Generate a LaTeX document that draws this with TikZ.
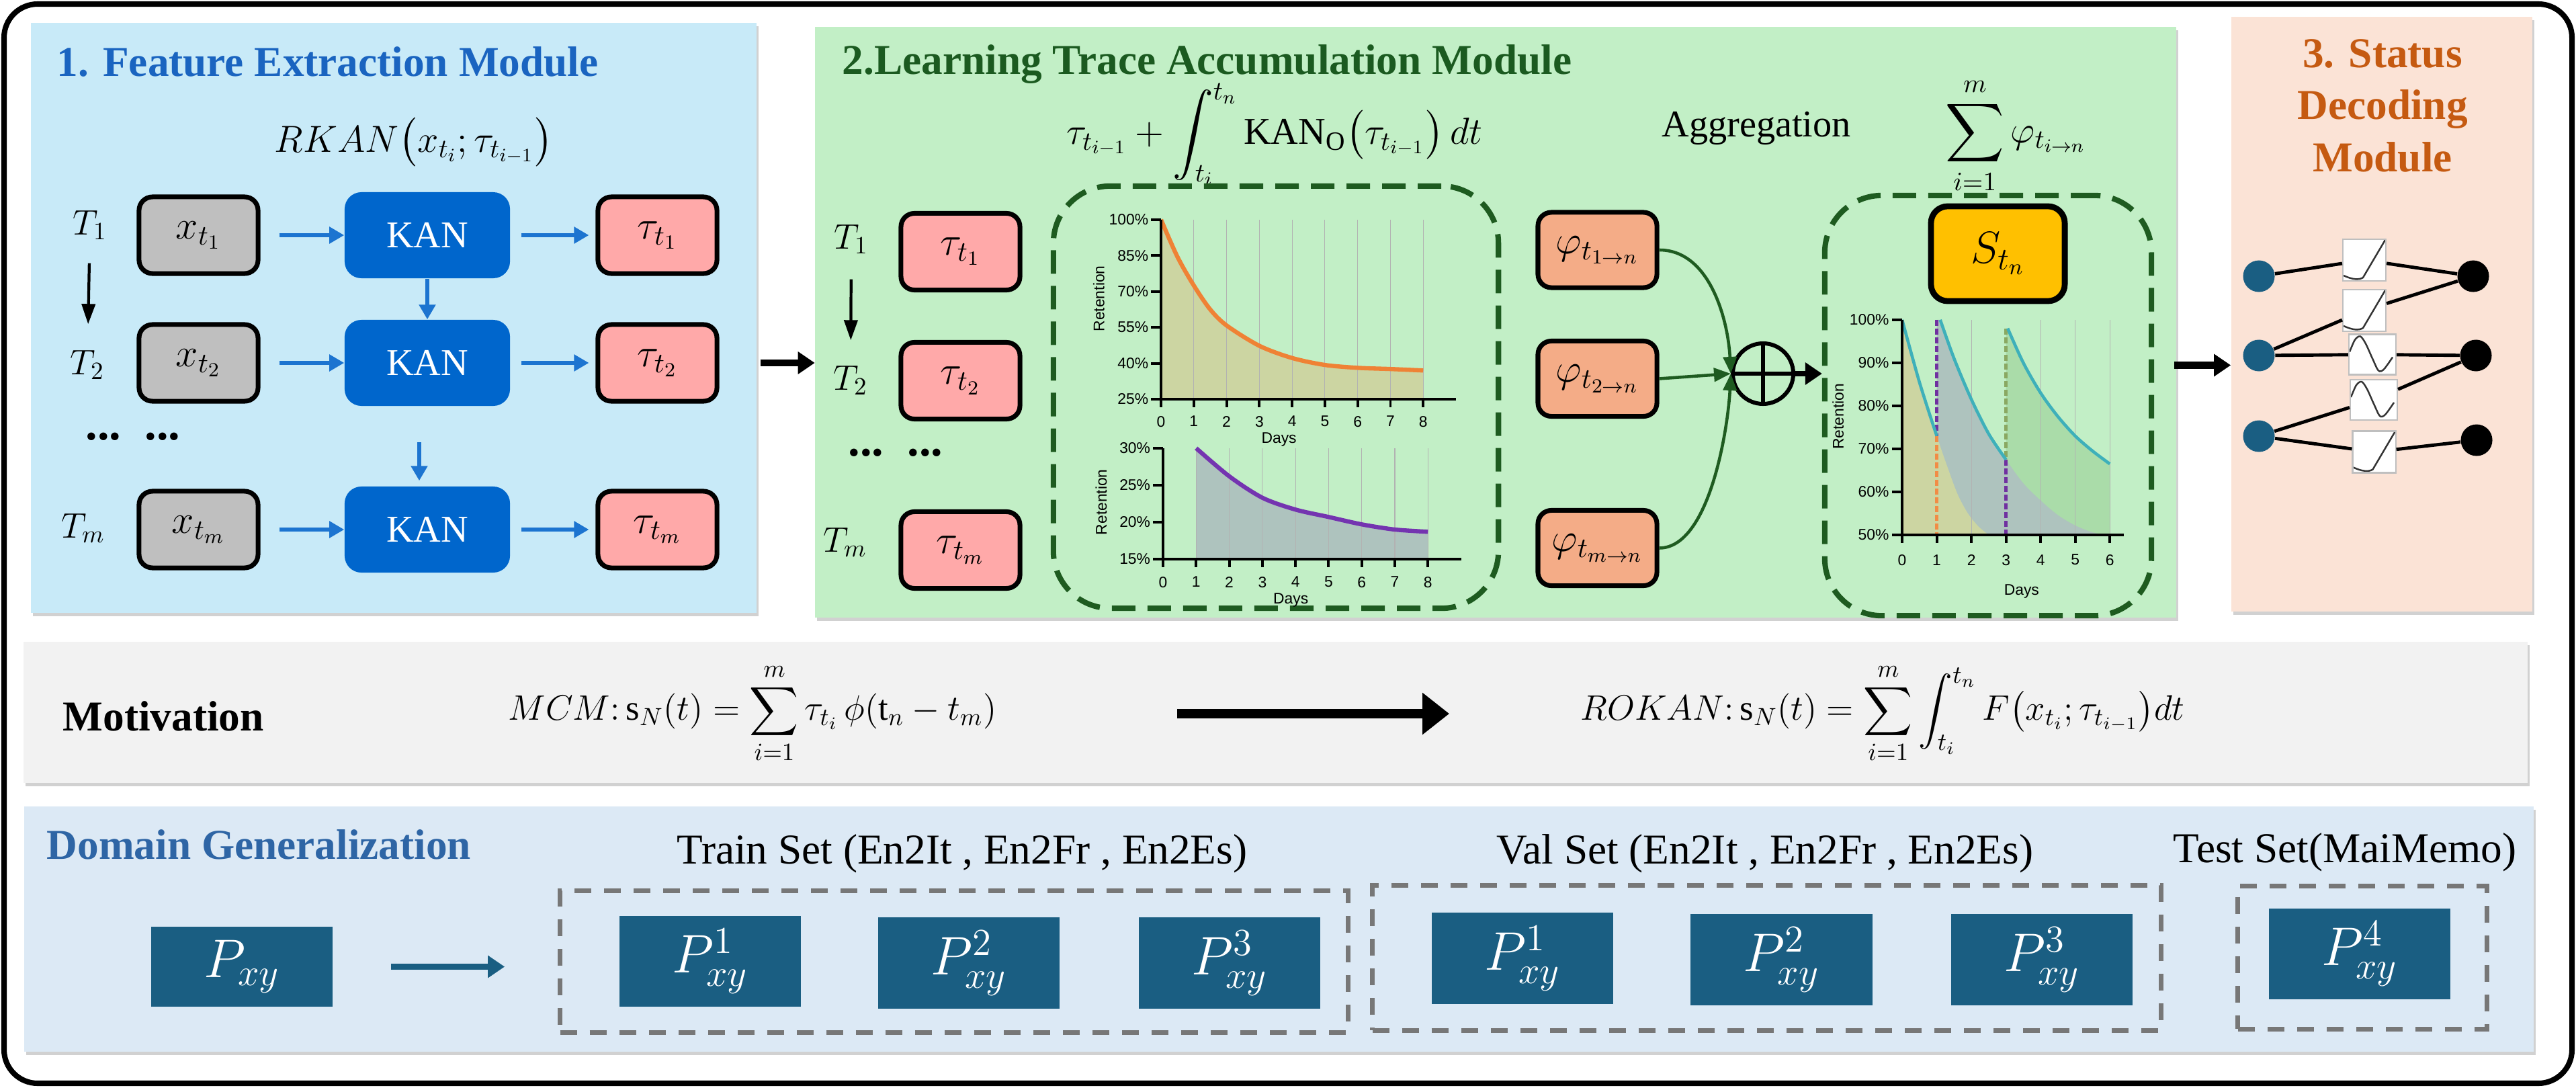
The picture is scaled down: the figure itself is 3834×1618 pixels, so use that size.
\documentclass[tikz,border=0pt]{standalone}
\usepackage{fix-cm}
\usepackage{exscale}
\usepackage{fontspec}
\setmainfont{Liberation Serif}
\setsansfont{Liberation Sans}
\usetikzlibrary{positioning,arrows.meta,shadows,calc}

\definecolor{featbg}{HTML}{C8EAF8}
\definecolor{tracebg}{HTML}{C2EFC6}
\definecolor{decodebg}{HTML}{FBE3D6}
\definecolor{motivbg}{HTML}{F2F2F2}
\definecolor{domainbg}{HTML}{DCE9F5}
\definecolor{feattitle}{HTML}{1A64C0}
\definecolor{tracetitle}{HTML}{1B5A20}
\definecolor{decodetitle}{HTML}{C55A11}
\definecolor{domaintitle}{HTML}{2E65A5}
\definecolor{kanblue}{HTML}{0066CC}
\definecolor{arrowblue}{HTML}{1C74D0}
\definecolor{xgray}{HTML}{BFBFBF}
\definecolor{taupink}{HTML}{FFA9A9}
\definecolor{phisalmon}{HTML}{F4AC87}
\definecolor{gold}{HTML}{FFC000}
\definecolor{pteal}{HTML}{1A5E82}
\definecolor{dashgreen}{HTML}{1E5B20}
\definecolor{dashgray}{HTML}{777777}
\definecolor{curveorange}{HTML}{EF8235}
\definecolor{curvepurple}{HTML}{7434B0}
\definecolor{curveteal}{HTML}{3EB0BA}
\definecolor{fillA}{HTML}{CCD5A2}
\definecolor{fillB}{HTML}{AEC3BE}
\definecolor{fillC}{HTML}{AADCA9}
\definecolor{dorange}{HTML}{F28C45}
\definecolor{dpurple}{HTML}{7030A0}
\definecolor{dolive}{HTML}{8AA862}

\begin{document}
\begin{tikzpicture}[x=0.01cm,y=-0.01cm]
  \tikzset{
  panel/.style={rectangle, inner sep=0pt, draw=none,
    drop shadow={shadow xshift=0.03cm, shadow yshift=-0.05cm, opacity=0.18, fill=black}},
  ttl/.style={font=\fontsize{18}{22}\selectfont\bfseries, inner sep=0pt},
  lbl/.style={font=\fontsize{18}{22}\selectfont, inner sep=0pt},
  frm/.style={font=\fontsize{16}{19}\selectfont, inner sep=0pt},
  tlab/.style={font=\fontsize{15}{18}\selectfont, inner sep=0pt},
  box/.style={rectangle, rounded corners=0.2cm, draw=black, line width=2pt,
    minimum width=1.77cm, minimum height=1.14cm, font=\fontsize{17}{19}\selectfont},
  xbox/.style={box, fill=xgray},
  taubox/.style={box, fill=taupink},
  phibox/.style={box, fill=phisalmon, minimum height=1.12cm},
  sbox/.style={box, fill=gold, line width=2.5pt, rounded corners=0.25cm,
    minimum width=1.99cm, minimum height=1.41cm, font=\fontsize{19}{21}\selectfont},
  kan/.style={rectangle, rounded corners=0.25cm, fill=kanblue, text=white,
    minimum width=2.46cm, minimum height=1.28cm, font=\fontsize{16}{18}\selectfont},
  barrow/.style={draw=arrowblue, line width=1.5pt, -{Triangle[length=0.22cm,width=0.24cm]}},
  karrow/.style={draw=black, line width=1.2pt, -{Triangle[length=0.3cm,width=0.2cm]}},
  panelarrow/.style={draw=black, line width=3pt, -{Triangle[length=0.25cm,width=0.32cm]}},
  garrow/.style={draw=dashgreen, line width=1.3pt, -{Triangle[length=0.25cm,width=0.2cm]}},
  greendash/.style={rectangle, draw=dashgreen, line width=2.3pt,
    dash pattern=on 0.35cm off 0.18cm, rounded corners=0.85cm},
  graydash/.style={rectangle, draw=dashgray, line width=2pt, dash pattern=on 0.25cm off 0.19cm},
  pbox/.style={rectangle, fill=pteal, text=white, minimum width=2.7cm,
    minimum height=1.35cm, font=\fontsize{23}{25}\selectfont},
  tick/.style={font=\sffamily\fontsize{6.5}{7}\selectfont, inner sep=1pt},
  axis/.style={line width=1.1pt},
  gridline/.style={black!30, line width=0.3pt},
  inode/.style={circle, fill=pteal, minimum size=0.47cm, inner sep=0pt},
  onode/.style={circle, fill=black, minimum size=0.47cm, inner sep=0pt},
  fbox/.style={rectangle, fill=white, draw=black!25, line width=0.6pt,
    minimum width=0.64cm, minimum height=0.62cm, inner sep=0pt},
  relubox/.style={fbox, path picture={
    \begin{scope}[shift={(path picture bounding box.center)}]
      \draw[line width=0.7pt, black!80] (-31,23) .. controls (-18,29) and (-8,30) .. (-2,26) -- (31,-30);
    \end{scope}}},
  sinebox/.style={fbox, minimum width=0.7cm, minimum height=0.6cm, path picture={
    \begin{scope}[shift={(path picture bounding box.center)}]
      \draw[line width=0.7pt, black!80] plot[smooth] coordinates
        {(-34,-4) (-26,-22) (-18,-27) (-10,-16) (0,6) (9,24) (17,22) (30,4)};
    \end{scope}}},
  netline/.style={line width=1.4pt}
}

\useasboundingbox (0,0) rectangle (3834,1618);

% panels
\node[panel, fill=featbg, minimum width=10.79cm, minimum height=8.78cm] (featpanel) at (586,473) {};
\node[panel, fill=tracebg, minimum width=20.24cm, minimum height=8.79cm] (tracepanel) at (2226,479.5) {};
\node[panel, fill=decodebg, minimum width=4.48cm, minimum height=8.85cm] (decodepanel) at (3545,467.5) {};
\node[panel, fill=motivbg, minimum width=37.25cm, minimum height=2.1cm] (motivpanel) at (1898.5,1060) {};
\node[panel, fill=domainbg, minimum width=37.33cm, minimum height=3.65cm] (domainpanel) at (1903.5,1382.5) {};
\draw[line width=2.3pt, rounded corners=0.5cm] (6,6) rectangle (3828,1612);

% 1. feature extraction
\node[ttl, text=feattitle, anchor=base west] (feattitle) at (84,113) {1. Feature Extraction Module};
\node[frm] (rkan) at (616,212) {$RKAN\bigl(x_{t_i};\tau_{t_{i-1}}\bigr)$};

\node[tlab] (TA1) at (134,335) {$T_1$};
\node[tlab] (TA2) at (130,543) {$T_2$};
\node[tlab] (TAm) at (124,786) {$T_m$};
\node[ttl, font=\fontsize{20}{22}\selectfont\bfseries] (dotsA) at (198,650) {...\ \ ...};
\draw[karrow, shorten <=0.34cm, shorten >=0.38cm] (TA1) -- (TA2);

\node[xbox] (x1) at (295.5,350) {$x_{t_1}$};
\node[xbox] (x2) at (295.5,540) {$x_{t_2}$};
\node[xbox] (xm) at (295.5,788) {$x_{t_m}$};
\node[kan] (k1) at (636,350) {KAN};
\node[kan] (k2) at (636,540) {KAN};
\node[kan] (km) at (636,788) {KAN};
\node[taubox] (tA1) at (978.5,350) {$\tau_{t_1}$};
\node[taubox] (tA2) at (978.5,540) {$\tau_{t_2}$};
\node[taubox] (tAm) at (978.5,788) {$\tau_{t_m}$};

\foreach \r in {1,2,m} {
  \draw[barrow, shorten <=0.28cm] (x\r) -- (k\r);
  \draw[barrow, shorten <=0.16cm, shorten >=0.1cm] (k\r) -- (tA\r);
}
\draw[barrow] (k1) -- (k2);
\coordinate (kdots) at (624,658);
\draw[barrow, shorten >=0.08cm] (kdots) -- (kdots |- km.north);

\draw[panelarrow, shorten <=0.05cm] (tA2.east -| featpanel.east) -- (tA2.east -| tracepanel.west);

% 2. learning trace accumulation
\node[ttl, text=tracetitle, anchor=base west] (tracetitle) at (1253,110) {2.Learning Trace Accumulation Module};
\node[frm] (ode) at (1897,200) {$\tau_{t_{i-1}}+\displaystyle\int_{t_i}^{t_n}\mathrm{KAN}_{\mathrm{O}}\bigl(\tau_{t_{i-1}}\bigr)\,dt$};

\node[tlab] (TB1) at (1267,356) {$T_1$};
\node[tlab] (TB2) at (1266,566) {$T_2$};
\node[tlab] (TBm) at (1258,807) {$T_m$};
\node[ttl, font=\fontsize{20}{22}\selectfont\bfseries] (dotsB) at (1333,674) {...\ \ ...};
\draw[karrow, shorten <=0.37cm, shorten >=0.37cm] (TB1) -- (TB2);

\node[taubox] (tB1) at (1429.5,374.5) {$\tau_{t_1}$};
\node[taubox] (tB2) at (1429.5,566.5) {$\tau_{t_2}$};
\node[taubox] (tBm) at (1429.5,818.5) {$\tau_{t_m}$};

\node[greendash, minimum width=6.62cm, minimum height=6.28cm] (dashA) at (1899,591) {};

% forgetting curve, one review
\begin{scope}[shift={(1728,594)}, x=0.4875cm, y=0.0356cm]
  \fill[fillA] (0,0) -- plot[smooth] coordinates {(0,75) (0.5,59.5) (1,47.5) (1.5,37.5) (2,30.8) (3,22.3) (4,17.2) (5,14.3) (6,13.1) (7,12.6) (8,12)} -- (8,0) -- cycle;
  \foreach \d in {1,...,8} \draw[gridline] (\d,0) -- (\d,75);
  \draw[line width=1.8pt, curveorange] plot[smooth] coordinates {(0,75) (0.5,59.5) (1,47.5) (1.5,37.5) (2,30.8) (3,22.3) (4,17.2) (5,14.3) (6,13.1) (7,12.6) (8,12)};
  \draw[axis] (0,75) -- (0,0) -- (9,0);
  \foreach \d in {0,...,8} {
    \draw[axis] (\d,0) -- (\d,-3.4);
    \node[tick] at (\d,-9.3) {\d};
  }
  \foreach \v in {25,40,...,100} {
    \draw[axis] (0,\v-25) -- (-0.3,\v-25);
    \node[tick, anchor=east] at (-0.3,\v-25) {\v\%};
  }
  \node[tick, rotate=90] at (-1.9,42) {Retention};
  \node[tick] at (3.6,-16.9) {Days};
\end{scope}

% forgetting curve, later review
\begin{scope}[shift={(1731,832)}, x=0.4925cm, y=0.11cm]
  \fill[fillB] (1,0) -- plot[smooth] coordinates {(1,15) (2,11.2) (3,8.3) (4,6.7) (5,5.7) (6,4.7) (7,4.0) (8,3.7)} -- (8,0) -- cycle;
  \foreach \d in {1,...,8} \draw[gridline] (\d,0) -- (\d,15);
  \draw[line width=1.8pt, curvepurple] plot[smooth] coordinates {(1,15) (2,11.2) (3,8.3) (4,6.7) (5,5.7) (6,4.7) (7,4.0) (8,3.7)};
  \draw[axis] (0,15) -- (0,0) -- (9,0);
  \foreach \d in {0,...,8} {
    \draw[axis] (\d,0) -- (\d,-1.1);
    \node[tick] at (\d,-3.1) {\d};
  }
  \foreach \v in {15,20,25,30} {
    \draw[axis] (0,\v-15) -- (-0.3,\v-15);
    \node[tick, anchor=east] at (-0.3,\v-15) {\v\%};
  }
  \node[tick, rotate=90] at (-1.87,7.7) {Retention};
  \node[tick] at (3.86,-5.5) {Days};
\end{scope}

\node[phibox] (phi1) at (2377.5,372) {$\varphi_{t_{1\to n}}$};
\node[phibox] (phi2) at (2377.5,563.5) {$\varphi_{t_{2\to n}}$};
\node[phibox] (phim) at (2377.5,815.5) {$\varphi_{t_{m\to n}}$};
\node[lbl, font=\fontsize{16}{19}\selectfont] (agg) at (2614,191) {Aggregation};
\node[frm] (aggsum) at (3000,202) {$\displaystyle\sum_{i=1}^{m}\varphi_{t_{i\to n}}$};

\node[circle, draw=black, line width=1.7pt, minimum size=0.9cm, inner sep=0pt,
  path picture={\draw[line width=1.7pt] (path picture bounding box.north) -- (path picture bounding box.south)
    (path picture bounding box.west) -- (path picture bounding box.east);}] (plus) at (2624,556) {};

\draw[garrow] (phi1.east) .. controls +(75,0) and +(-4,-80) .. (plus.west);
\draw[garrow] (phi2.east) -- (plus.west);
\draw[garrow] (phim.east) .. controls +(75,0) and +(-4,80) .. (plus.west);

\node[greendash, minimum width=4.86cm, minimum height=6.25cm] (dashB) at (2959,603.5) {};
\draw[panelarrow, line width=2.2pt] (plus.east) -- (plus.east -| dashB.west);
\node[sbox] (state) at (2973.5,377.5) {$S_{t_n}$};

% accumulated curve with reviews
\begin{scope}[shift={(2831,796)}, x=0.515cm, y=0.064cm]
  \fill[fillC] (3,0) -- (3,48) -- plot[smooth] coordinates {(3.05,48) (3.5,40) (4,33) (4.5,27.5) (5,23) (5.5,19.5) (6,16.5)} -- (6,0) -- cycle;
  \fill[fillB] (1,0) -- (1,50) -- plot[smooth] coordinates {(1.1,50) (1.5,41) (2,31.5) (2.5,23.5) (3,17.5) (3.5,12) (4,8) (4.5,4.6) (5,2.2) (5.5,0.6) (5.9,0)} -- cycle;
  \fill[fillA] (0,0) -- plot[smooth] coordinates {(0,50) (0.5,35.5) (1,23) (1.3,16) (1.6,9.5) (1.9,5) (2.2,2) (2.5,0)} -- cycle;
  \foreach \d in {2,4,5,6} \draw[gridline] (\d,0) -- (\d,50);
  \draw[dpurple, line width=1.3pt, dash pattern=on 0.09cm off 0.04cm] (1,50) -- (1,23);
  \draw[dorange, line width=1.3pt, dash pattern=on 0.09cm off 0.04cm] (1,23) -- (1,0);
  \draw[dolive, line width=1.3pt, dash pattern=on 0.09cm off 0.04cm] (3,48) -- (3,17.5);
  \draw[dpurple, line width=1.3pt, dash pattern=on 0.09cm off 0.04cm] (3,17.5) -- (3,0);
  \draw[line width=1.3pt, curveteal] plot[smooth] coordinates {(0,50) (0.5,35.5) (1,23)};
  \draw[line width=1.3pt, curveteal] plot[smooth] coordinates {(1.1,50) (1.5,41) (2,31.5) (2.5,23.5) (3,17.5)};
  \draw[line width=1.3pt, curveteal] plot[smooth] coordinates {(3.05,48) (3.5,40) (4,33) (4.5,27.5) (5,23) (5.5,19.5) (6,16.5)};
  \draw[axis] (0,50) -- (0,0) -- (6.4,0);
  \foreach \d in {0,...,6} {
    \draw[axis] (\d,0) -- (\d,-1.9);
    \node[tick] at (\d,-5.8) {\d};
  }
  \foreach \v in {50,60,...,100} {
    \draw[axis] (0,\v-50) -- (-0.3,\v-50);
    \node[tick, anchor=east] at (-0.3,\v-50) {\v\%};
  }
  \node[tick, rotate=90] at (-1.85,27.5) {Retention};
  \node[tick] at (3.45,-13.1) {Days};
\end{scope}

\draw[panelarrow, shorten <=0.3cm] ([yshift=0.6cm]dashB.east) -- ([yshift=0.6cm]dashB.east -| decodepanel.west);

% 3. status decoding
\node[ttl, text=decodetitle, align=center, anchor=north, font=\fontsize{18}{22}\selectfont\bfseries] (decodetitle) at (3546,58) {3. Status\\Decoding\\Module};

\node[relubox] (f1) at (3519,387) {};
\node[relubox] (f2) at (3519,462) {};
\node[sinebox] (f3) at (3531,527.5) {};
\node[sinebox] (f4) at (3533,595) {};
\node[relubox] (f5) at (3533.5,672.5) {};
\node[inode] (L1) at (3362,411) {};
\node[inode] (L2) at (3362,529) {};
\node[inode] (L3) at (3362,649) {};
\node[onode] (R1) at (3681,411) {};
\node[onode] (R2) at (3685,529) {};
\node[onode] (R3) at (3686,655) {};
\draw[netline] (L1) -- (f1) -- (R1);
\draw[netline] (L2) -- (f2) -- (R1);
\draw[netline] (L2) -- (f3) -- (R2);
\draw[netline] (L3) -- (f4) -- (R2);
\draw[netline] (L3) -- (f5) -- (R3);

% motivation
\node[ttl, anchor=west] (motiv) at (93,1066) {Motivation};
\node[frm, font=\fontsize{15}{18}\selectfont] (mcm) at (1120,1062) {$MCM{:}\,\mathrm{s}_N(t)=\displaystyle\sum_{i=1}^{m}\tau_{t_i}\,\phi(\mathrm{t}_n-t_m)$};
\node[frm, font=\fontsize{15}{18}\selectfont] (rokan) at (2802,1062) {$ROKAN{:}\,\mathrm{s}_N(t)=\displaystyle\sum_{i=1}^{m}\int_{t_i}^{t_n}F\bigl(x_{t_i};\tau_{t_{i-1}}\bigr)dt$};
\coordinate (motivstart) at (1752,1062);
\coordinate (motivend) at (2157,1062);
\draw[line width=4pt, -{Triangle[length=0.4cm,width=0.6cm]}] (motivstart) -- (motivend);

% domain generalization
\node[ttl, text=domaintitle, anchor=west] (domaintitle) at (69,1257) {Domain Generalization};
\node[lbl] (trainlbl) at (1432,1270) {Train Set (En2It , En2Fr , En2Es)};
\node[lbl] (vallbl) at (2627,1270) {Val Set (En2It , En2Fr , En2Es)};
\node[lbl] (testlbl) at (3490,1268) {Test Set(MaiMemo)};

\node[pbox, minimum height=1.19cm] (pxy) at (360,1438.5) {$P_{xy}$};
\node[graydash, minimum width=11.72cm, minimum height=2.1cm] (trainbox) at (1420,1431) {};
\node[graydash, minimum width=11.73cm, minimum height=2.15cm] (valbox) at (2629.5,1425.5) {};
\node[graydash, minimum width=3.7cm, minimum height=2.12cm] (testbox) at (3516,1425) {};
\node[pbox] (trainp1) at (1057,1430.5) {$P_{xy}^{1}$};
\node[pbox] (trainp2) at (1442,1433) {$P_{xy}^{2}$};
\node[pbox] (trainp3) at (1830,1433) {$P_{xy}^{3}$};
\node[pbox] (valp1) at (2266,1426) {$P_{xy}^{1}$};
\node[pbox] (valp2) at (2651.5,1428) {$P_{xy}^{2}$};
\node[pbox] (valp3) at (3039,1428) {$P_{xy}^{3}$};
\node[pbox] (testp4) at (3512,1419.5) {$P_{xy}^{4}$};
\draw[draw=pteal, line width=2.5pt, -{Triangle[length=0.25cm,width=0.32cm]}, shorten <=0.86cm, shorten >=0.79cm]
  (pxy.east) -- (pxy.east -| trainbox.west);

\end{tikzpicture}
\end{document}
